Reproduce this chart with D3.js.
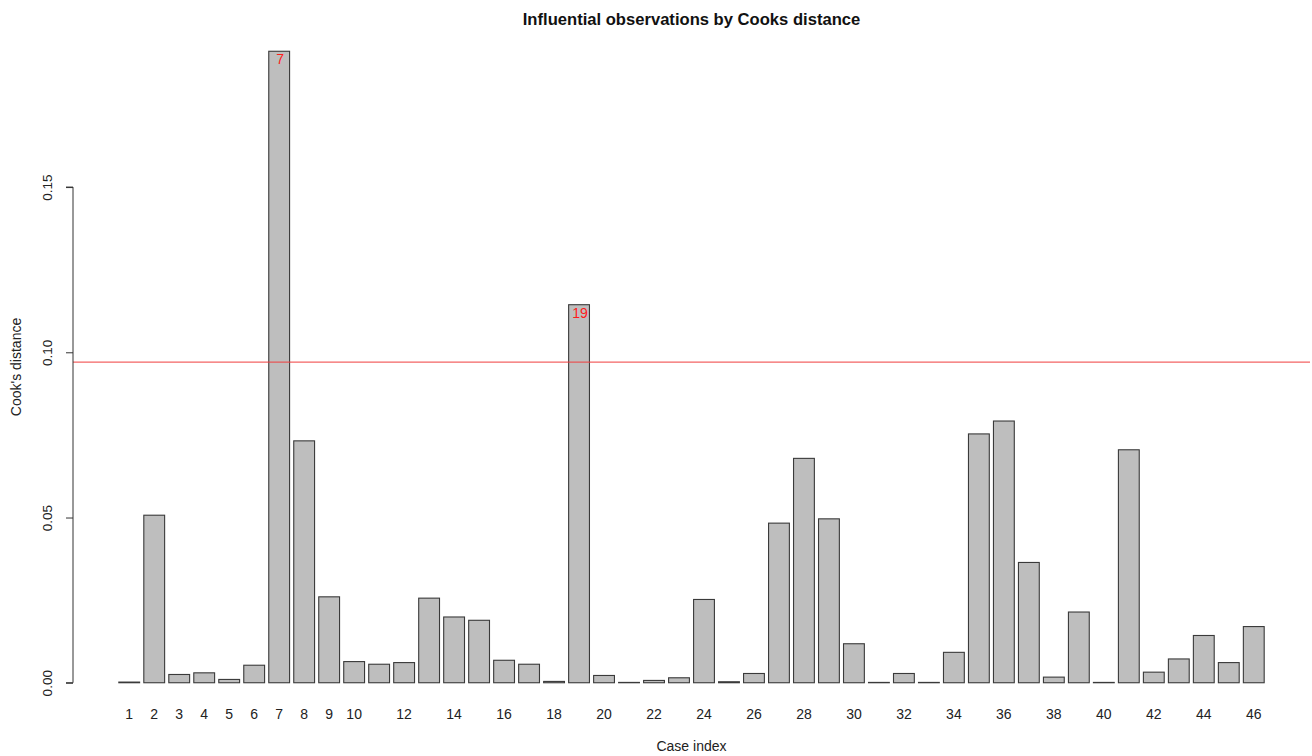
<!DOCTYPE html>
<html>
<head>
<meta charset="utf-8">
<script src="https://cdn.jsdelivr.net/npm/d3@7"></script>
<style>
  html, body { margin: 0; padding: 0; background: #fff; }
  svg { display: block; font-family: "Liberation Sans", Arial, sans-serif; }
</style>
</head>
<body>
<svg id="chart" width="1312" height="756"></svg>
<script>
// Case indices and their Cook's distances
const caseIndex = d3.range(1, 47);
const cooksD = [
  0.0002, 0.0507, 0.0025, 0.0030, 0.0010, 0.0053, 0.1911, 0.0732, 0.0260, 0.0064,
  0.0056, 0.0061, 0.0256, 0.0199, 0.0189, 0.0068, 0.0056, 0.0004, 0.1144, 0.0022,
  0.0001, 0.0007, 0.0015, 0.0252, 0.0003, 0.0028, 0.0483, 0.0679, 0.0496, 0.0118,
  0.0001, 0.0028, 0.0001, 0.0092, 0.0753, 0.0792, 0.0364, 0.0017, 0.0214, 0.0001,
  0.0705, 0.0032, 0.0072, 0.0143, 0.0061, 0.0170
];
// Influence cut-off
const cutoff = 0.097;
// Case labels that fit under the bars
const xTickLabels = [1,2,3,4,5,6,7,8,9,10,12,14,16,18,20,22,24,26,28,30,32,34,36,38,40,42,44,46];
const yTicks = [0.00, 0.05, 0.10, 0.15];
const title = "Influential observations by Cooks distance";

const svg = d3.select("#chart");

// Bars: width 1, space 0.2 in user units
const barW = 1, space = 0.2;
const left = i => space + i * (barW + space);
const xMin = left(0), xMax = left(caseIndex.length - 1) + barW;
const xPad = (xMax - xMin) * 0.04;
const x = d3.scaleLinear().domain([xMin - xPad, xMax + xPad]).range([73, 1310]);

const yMax = d3.max(cooksD);
const yPad = yMax * 0.04;
const y = d3.scaleLinear().domain([-yPad, yMax + yPad]).range([708, 26]);

const data = caseIndex.map((c, i) => ({ c, v: cooksD[i], i }));

svg.append("g")
  .selectAll("rect")
  .data(data)
  .join("rect")
  .attr("x", d => x(left(d.i)))
  .attr("width", d => x(left(d.i) + barW) - x(left(d.i)))
  .attr("y", d => y(d.v))
  .attr("height", d => y(0) - y(d.v))
  .attr("fill", "#bebebe")
  .attr("stroke", "#3a3a3a")
  .attr("stroke-width", 1.1);

// Threshold line
svg.append("line")
  .attr("x1", x.range()[0]).attr("x2", x.range()[1])
  .attr("y1", y(cutoff)).attr("y2", y(cutoff))
  .attr("stroke", "#f03c3c")
  .attr("stroke-opacity", 0.8)
  .attr("stroke-width", 1.2);

// Labels for cases above the cut-off
svg.append("g")
  .selectAll("text")
  .data(data.filter(d => d.v > cutoff))
  .join("text")
  .attr("x", d => x(left(d.i) + barW / 2) + 1)
  .attr("y", d => y(d.v) + 13)
  .attr("text-anchor", "middle")
  .attr("font-size", 14)
  .attr("fill", "#ff1a1a")
  .text(d => d.c);

// Y axis with rotated labels
const yAxis = d3.axisLeft(y)
  .tickValues(yTicks)
  .tickSize(7)
  .tickFormat(d3.format(".2f"));
const gy = svg.append("g")
  .attr("transform", `translate(${x.range()[0]},0)`)
  .call(yAxis);
gy.select(".domain")
  .attr("d", `M-7,${y(yTicks[0])}H0V${y(yTicks[yTicks.length - 1])}H-7`)
  .attr("stroke", "#333");
gy.selectAll(".tick line").attr("stroke", "#333");
gy.selectAll(".tick text")
  .attr("font-size", 13.5)
  .attr("font-family", "Liberation Sans, Arial, sans-serif")
  .attr("fill", "#222")
  .attr("text-anchor", "middle")
  .attr("x", 0)
  .attr("y", 0)
  .attr("dy", "0.35em")
  .attr("transform", "translate(-26,0) rotate(-90)");

// Case labels under the bars (no axis line)
svg.append("g")
  .selectAll("text")
  .data(xTickLabels)
  .join("text")
  .attr("x", d => x(left(d - 1) + barW / 2))
  .attr("y", 719)
  .attr("text-anchor", "middle")
  .attr("font-size", 14)
  .attr("fill", "#222")
  .text(d => d);

// Titles
svg.append("text")
  .attr("x", (x.range()[0] + x.range()[1]) / 2)
  .attr("y", 25)
  .attr("text-anchor", "middle")
  .attr("font-size", 16.6)
  .attr("font-weight", "bold")
  .attr("fill", "#111")
  .text(title);

svg.append("text")
  .attr("x", (x.range()[0] + x.range()[1]) / 2)
  .attr("y", 751)
  .attr("text-anchor", "middle")
  .attr("font-size", 14)
  .attr("fill", "#222")
  .text("Case index");

svg.append("text")
  .attr("transform", `translate(21,${(y.range()[0] + y.range()[1]) / 2}) rotate(-90)`)
  .attr("text-anchor", "middle")
  .attr("font-size", 14)
  .attr("fill", "#222")
  .text("Cook's distance");
</script>
</body>
</html>
